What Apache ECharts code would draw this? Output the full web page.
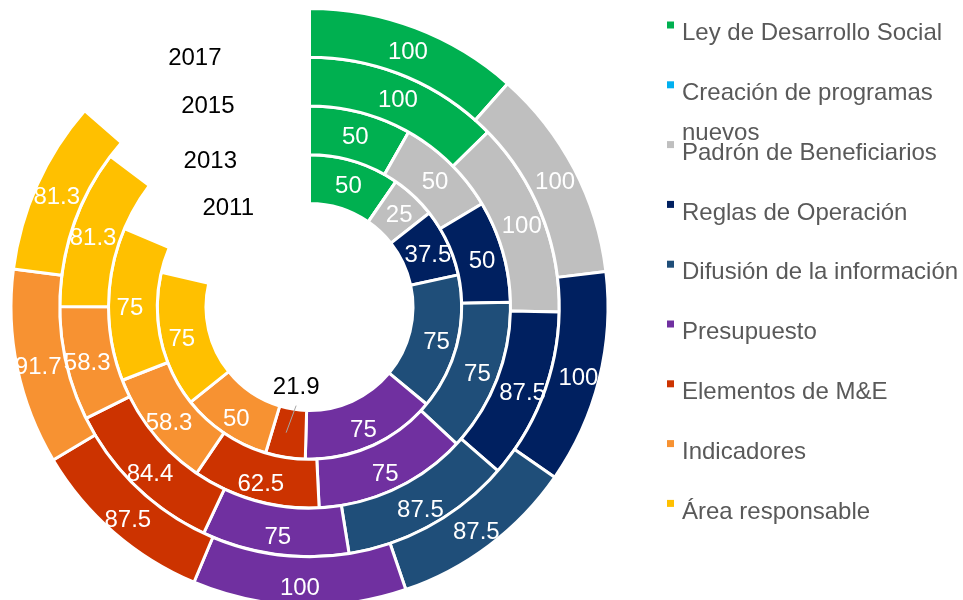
<!DOCTYPE html>
<html>
<head>
<meta charset="utf-8">
<title>Elementos de monitoreo y evaluación</title>
<script src="https://cdn.jsdelivr.net/npm/echarts@6/dist/echarts.min.js"></script>
<style>
  html, body { margin: 0; padding: 0; background: #fff; }
  #chart { width: 963px; height: 600px; }
</style>
</head>
<body>
<div id="chart"></div>
<script>
const categories = [
  "Ley de Desarrollo Social",
  "Creación de programas nuevos",
  "Padrón de Beneficiarios",
  "Reglas de Operación",
  "Difusión de la información",
  "Presupuesto",
  "Elementos de M&E",
  "Indicadores",
  "Área responsable"
];
const colors = ["#00B050", "#00B0F0", "#BFBFBF", "#002060", "#1F4E79", "#7030A0", "#CC3300", "#F79232", "#FFC000"];

// rings from the inside out
const years = ["2011", "2013", "2015", "2017"];
const values2011 = [50, 0, 25, 37.5, 75, 75, 21.9, 50, 75];
const values2013 = [50, 0, 50, 50, 75, 75, 62.5, 58.3, 75];
const values2015 = [100, 0, 100, 87.5, 87.5, 75, 84.4, 58.3, 81.3];
const values2017 = [100, 0, 100, 100, 87.5, 100, 87.5, 91.7, 81.3];
// empty part of each ring, it carries the year label
const gapValues = [111, 113.5, 116, 117.5];

const ringValues = [values2011, values2013, values2015, values2017];
const ringRadius = [[103.5, 152.25], [152.25, 201], [201, 249.75], [249.75, 298.5]];
const font = "Liberation Sans, Arial, sans-serif";
const legendColor = "#595959";

function labelShift(p) {
    return { dy: 4 };
}

// the 21.9 slice is too thin, its label goes towards the hole
function smallSliceLayout(p) {
    if (p.dataIndex !== 6) return labelShift(p);
    const cx = p.rect.x + p.rect.width / 2;
    const cy = p.rect.y + p.rect.height / 2;
    const lx = cx + 10;
    const ly = p.rect.y - 17;
    return {
        x: lx, y: ly, align: "center", verticalAlign: "middle",
        labelLinePoints: [[lx, ly + 18], [lx, ly + 18], [cx, cy]]
    };
}

const series = years.map((year, r) => {
    const data = categories.map((name, i) => {
        const v = ringValues[r][i];
        const item = { name: name, value: v, itemStyle: { color: colors[i] } };
        if (v === 0) item.label = { show: false };
        return item;
    });
    if (r === 0) {
        data[6].label = { position: "outside", color: "#000" };
        data[6].labelLine = { show: true, lineStyle: { color: "#A6A6A6", width: 1 } };
    }
    data.push({
        name: "gap",
        value: gapValues[r],
        itemStyle: { color: "rgba(0,0,0,0)", borderWidth: 0 },
        label: { formatter: "{a}", color: "#000" }
    });
    return {
        type: "pie",
        name: year,
        center: [309.5, 307],
        radius: ringRadius[r],
        startAngle: 90,
        clockwise: true,
        avoidLabelOverlap: false,
        silent: true,
        emphasis: { disabled: true },
        itemStyle: { borderColor: "#fff", borderWidth: 3 },
        label: { show: true, position: "inside", color: "#fff", fontSize: 24, fontFamily: font, formatter: "{c}" },
        labelLine: { show: false },
        labelLayout: r === 0 ? smallSliceLayout : labelShift,
        data: data
    };
});

const legends = categories.map((name, i) => {
    const wrapped = name === "Creación de programas nuevos";
    let fmt = "{t|{name}}";
    if (wrapped) {
        const k = name.lastIndexOf(" ");
        fmt = "{w|" + name.slice(0, k) + "}\n{w|" + name.slice(k + 1) + "}";
    }
    return {
        data: [name],
        orient: "vertical",
        left: 667,
        top: 21.5 + i * 59.8,
        padding: 0,
        icon: "rect",
        itemWidth: 7,
        itemHeight: 7,
        itemStyle: { borderWidth: 0 },
        selectedMode: false,
        formatter: fmt,
        textStyle: {
            color: legendColor, fontSize: 24, fontFamily: font,
            padding: [wrapped ? 57 : 17, 0, 0, 3],
            rich: {
                t: { color: legendColor, fontSize: 24, fontFamily: font, lineHeight: 24 },
                w: { color: legendColor, fontSize: 24, fontFamily: font, lineHeight: 40 }
            }
        }
    };
});

const chart = echarts.init(document.getElementById("chart"));
chart.setOption({
    animation: false,
    backgroundColor: "#fff",
    textStyle: { fontFamily: font },
    legend: legends,
    series: series
});

// pie draws its leader lines under the slices; lift them so the 21.9 line shows
chart.getZr().storage.getRoots().forEach(function lift(el) {
    const line = el.getTextGuideLine && el.getTextGuideLine();
    if (line && !line.ignore) {
        line.z2 = el.z2 + 1;
        line.markRedraw();
    }
    if (el.children) el.children().forEach(lift);
});
chart.getZr().refreshImmediately();
</script>
</body>
</html>
